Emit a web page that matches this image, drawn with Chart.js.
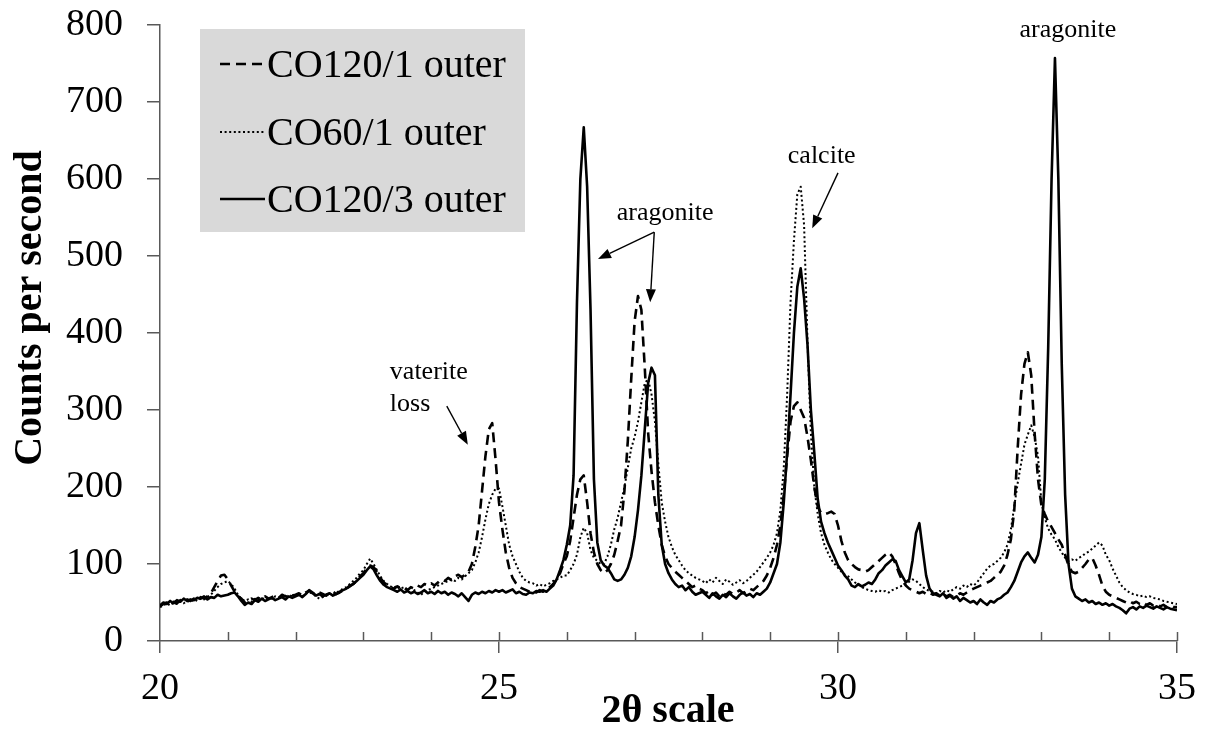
<!DOCTYPE html>
<html>
<head>
<meta charset="utf-8">
<script src="https://cdn.jsdelivr.net/npm/chart.js@4.4.1/dist/chart.umd.min.js"></script>
<style>
  html, body { margin: 0; padding: 0; background: #fff; }
  #wrap { width: 1205px; height: 733px; }
</style>
</head>
<body>
<div id="wrap"><canvas id="xrdChart"></canvas></div>
<script>
// XRD scan, 20.00 to 35.00 deg 2theta, one reading every 0.05 deg
const scanStart = 20;
const scanStep = 0.05;

// counts per second, one row per degree (x.00 ... x.95)
const co120_1 = [
  45,48,50,47,51,49,53,50,54,52,55,53,57,55,58,62,70,78,85,86,
  80,72,64,58,55,50,52,55,53,56,54,58,55,57,59,56,60,58,61,59,
  60,62,59,63,65,62,60,63,61,59,62,64,61,63,66,68,71,74,78,84,
  88,95,98,96,90,82,76,73,70,68,71,67,69,66,70,68,72,70,74,72,
  75,72,76,80,78,82,79,84,86,83,86,90,100,122,150,195,240,275,283,235,
  180,145,115,95,82,75,70,68,66,64,65,63,66,64,67,70,74,80,88,100,
  110,130,160,190,210,215,180,140,115,100,92,88,92,100,112,130,150,195,260,340,
  415,448,430,355,270,220,180,150,125,110,100,95,90,86,82,78,74,70,72,68,
  66,62,65,60,63,58,62,60,64,61,63,66,62,65,68,66,70,74,78,85,
  95,108,125,150,190,240,285,305,310,300,290,265,235,200,175,166,165,166,168,165,
  150,130,115,105,100,96,93,92,90,92,96,100,104,108,112,115,110,100,88,78,
  72,68,66,64,62,64,61,63,60,62,59,61,58,60,57,59,62,60,63,66,
  68,70,72,74,76,78,82,86,90,98,112,132,170,250,320,360,375,345,270,210,
  176,165,155,148,140,132,125,112,98,90,88,90,95,100,106,108,98,86,72,64,
  60,58,56,54,52,50,52,49,51,48,50,47,49,46,48,45,47,44,46,44,
  44
];

const co60_1 = [
  44,46,49,46,50,48,51,49,52,51,54,52,55,54,57,60,65,70,74,76,
  78,74,68,60,55,52,54,51,55,53,56,54,57,55,58,56,59,57,60,58,
  59,61,58,62,64,61,58,55,57,60,62,59,63,65,68,70,74,78,82,88,
  92,100,107,100,92,84,78,74,71,69,72,68,70,67,69,66,63,60,64,66,
  68,70,72,74,76,78,80,78,82,80,84,88,92,102,115,135,158,178,190,198,
  198,175,150,125,110,100,90,82,78,76,75,72,74,71,73,75,78,80,82,85,
  85,92,100,112,135,147,140,118,108,104,100,100,110,125,145,160,180,200,225,250,
  265,285,310,335,340,320,285,230,180,155,135,122,112,105,98,92,88,85,82,80,
  78,75,80,76,82,78,74,80,77,73,76,79,75,78,82,86,90,96,102,108,
  115,125,140,170,225,320,440,520,580,590,540,390,270,200,165,140,125,115,106,100,
  95,90,86,84,80,76,73,70,68,66,65,64,66,64,65,63,66,68,70,72,
  74,77,80,78,74,70,67,65,64,62,65,63,66,64,67,70,68,72,70,74,
  72,76,82,88,94,98,100,104,108,115,125,145,175,205,230,255,268,280,265,240,
  180,160,146,138,132,122,115,108,104,106,104,108,110,114,116,120,124,128,124,112,
  105,94,85,76,70,66,63,61,60,58,59,57,58,56,55,54,52,51,50,49,
  48
];

const co120_3 = [
  46,50,48,52,49,53,51,55,52,54,53,56,55,58,54,57,56,60,58,59,
  60,62,63,58,52,47,50,48,53,51,55,52,54,56,53,55,57,54,58,56,
  58,60,57,61,66,63,59,61,58,60,62,59,61,64,66,68,72,74,78,82,
  86,92,97,93,85,78,73,70,68,66,64,67,63,65,62,64,61,63,66,62,
  64,61,65,62,64,60,63,61,58,62,57,52,60,63,61,64,62,65,63,66,
  64,66,63,65,67,62,64,61,60,63,62,65,64,66,64,68,72,80,92,105,
  125,150,215,440,600,667,590,430,210,128,105,98,95,88,80,78,80,86,95,110,
  135,170,215,275,335,355,345,190,125,100,88,80,74,70,72,66,70,64,60,62,
  64,60,56,62,58,55,60,57,62,58,55,60,63,59,61,57,62,60,64,68,
  76,88,100,128,180,245,320,400,460,484,445,385,300,245,185,155,140,128,118,108,
  98,92,85,80,72,70,74,71,73,76,74,80,88,92,98,102,106,104,92,84,
  76,80,105,140,153,118,85,68,62,60,58,62,56,59,55,58,52,56,53,50,
  52,48,54,50,47,52,50,54,56,60,63,70,78,90,102,110,115,108,102,112,
  135,210,380,600,757,600,360,190,100,68,58,55,52,54,50,52,48,50,47,49,
  46,48,45,43,40,36,42,44,41,45,43,46,44,42,45,43,41,44,42,41,
  40
];

const seriesNames = ["CO120/1 outer", "CO60/1 outer", "CO120/3 outer"];
const xTickValues = [20, 25, 30, 35];
const yTickValues = [0, 100, 200, 300, 400, 500, 600, 700, 800];

// peak notes, placed in data coordinates (2theta, counts)
const noteLabels = [
  { lines: ["vaterite", "loss"], x: 23.39, y: 340, align: "left" },
  { lines: ["aragonite"], x: 27.45, y: 547, align: "center" },
  { lines: ["calcite"], x: 29.76, y: 621, align: "center" },
  { lines: ["aragonite"], x: 33.39, y: 784, align: "center" },
];
const noteArrows = [
  { from: [24.23, 305], to: [24.54, 255] },
  { from: [27.29, 531], to: [26.46, 496] },
  { from: [27.29, 531], to: [27.23, 440] },
  { from: [30.0, 608], to: [29.62, 536] },
];

const angles = co120_3.map((_, i) => +(scanStart + i * scanStep).toFixed(2));
const toPoints = (vals) => vals.map((v, i) => ({ x: angles[i], y: v }));

const serif = "'Liberation Serif', 'Times New Roman', serif";
const axisColor = "#595959";

// minor ticks inside the plot, titles, legend box and the peak notes
const decorations = {
  id: "decorations",
  afterDatasetsDraw(chart) {
    const { ctx, chartArea } = chart;
    const xs = chart.scales.x;
    const ys = chart.scales.y;

    // tick marks pointing up from the x axis, every degree
    ctx.save();
    ctx.strokeStyle = axisColor;
    ctx.lineWidth = 1.5;
    for (let v = 21; v <= 35; v++) {
      const px = Math.round(xs.getPixelForValue(v)) + 0.5;
      ctx.beginPath();
      ctx.moveTo(px, chartArea.bottom);
      ctx.lineTo(px, chartArea.bottom - 9);
      ctx.stroke();
    }
    ctx.restore();

    // notes
    ctx.save();
    ctx.fillStyle = "#000";
    ctx.strokeStyle = "#000";
    ctx.font = "26px " + serif;
    ctx.textBaseline = "alphabetic";
    noteLabels.forEach((n) => {
      ctx.textAlign = n.align;
      const px = xs.getPixelForValue(n.x);
      const py = ys.getPixelForValue(n.y);
      n.lines.forEach((t, k) => ctx.fillText(t, px, py + k * 32));
    });
    ctx.lineWidth = 1.4;
    noteArrows.forEach((a) => {
      const x0 = xs.getPixelForValue(a.from[0]);
      const y0 = ys.getPixelForValue(a.from[1]);
      const x1 = xs.getPixelForValue(a.to[0]);
      const y1 = ys.getPixelForValue(a.to[1]);
      const ang = Math.atan2(y1 - y0, x1 - x0);
      const headLen = 13, headW = 5;
      const bx = x1 - headLen * Math.cos(ang);
      const by = y1 - headLen * Math.sin(ang);
      ctx.beginPath();
      ctx.moveTo(x0, y0);
      ctx.lineTo(bx, by);
      ctx.stroke();
      ctx.beginPath();
      ctx.moveTo(x1, y1);
      ctx.lineTo(bx + headW * Math.sin(ang), by - headW * Math.cos(ang));
      ctx.lineTo(bx - headW * Math.sin(ang), by + headW * Math.cos(ang));
      ctx.closePath();
      ctx.fill();
    });
    ctx.restore();
  },
  afterDraw(chart) {
    const { ctx } = chart;
    ctx.save();

    // axis titles
    ctx.fillStyle = "#000";
    ctx.font = "bold 40px " + serif;
    ctx.textAlign = "center";
    ctx.textBaseline = "middle";
    ctx.fillText("2\u03b8 scale", 668, 712);
    ctx.translate(31, 308);
    ctx.rotate(-Math.PI / 2);
    ctx.fillText("Counts per second", 0, 0);
    ctx.setTransform(1, 0, 0, 1, 0, 0);

    // legend
    ctx.fillStyle = "#d9d9d9";
    ctx.fillRect(200, 29, 325, 203);
    const rows = [64, 132, 199];
    chart.data.datasets.forEach((ds, i) => {
      ctx.strokeStyle = ds.borderColor;
      ctx.lineWidth = ds.borderWidth;
      ctx.setLineDash(ds.borderDash || []);
      ctx.beginPath();
      ctx.moveTo(220, rows[i]);
      ctx.lineTo(265, rows[i]);
      ctx.stroke();
      ctx.setLineDash([]);
      ctx.fillStyle = "#000";
      ctx.font = "40px " + serif;
      ctx.textAlign = "left";
      ctx.textBaseline = "middle";
      ctx.fillText(ds.label, 267, rows[i] + 2);
    });
    ctx.restore();
  },
};

const ctx = document.getElementById("xrdChart").getContext("2d");
const chart = new Chart(ctx, {
  type: "line",
  data: {
    datasets: [
      {
        label: seriesNames[0],
        data: toPoints(co120_1),
        borderColor: "#000",
        borderWidth: 2.6,
        borderDash: [10, 6],
      },
      {
        label: seriesNames[1],
        data: toPoints(co60_1),
        borderColor: "#000",
        borderWidth: 2,
        borderDash: [2, 2.6],
      },
      {
        label: seriesNames[2],
        data: toPoints(co120_3),
        borderColor: "#000",
        borderWidth: 2.6,
      },
    ],
  },
  options: {
    responsive: true,
    maintainAspectRatio: false,
    animation: false,
    layout: { padding: { top: 25, right: 28, left: 0, bottom: 0 } },
    elements: {
      point: { radius: 0 },
      line: { tension: 0, fill: false, borderJoinStyle: "round" },
    },
    plugins: {
      legend: { display: false },
      tooltip: { enabled: false },
    },
    scales: {
      x: {
        type: "linear",
        min: 20,
        max: 35,
        afterBuildTicks: (s) => { s.ticks = xTickValues.map((v) => ({ value: v })); },
        afterFit: (s) => {
          s.height = 92;
          s.paddingLeft = 0;
          s.paddingRight = 0;
        },
        ticks: { color: "#000", font: { family: serif, size: 38 }, padding: 13, maxRotation: 0 },
        grid: { display: true, drawOnChartArea: false, drawTicks: true, tickLength: 12, color: axisColor, lineWidth: 1.5 },
        border: { display: true, color: axisColor, width: 1.5 },
      },
      y: {
        type: "linear",
        min: 0,
        max: 800,
        afterBuildTicks: (s) => { s.ticks = yTickValues.map((v) => ({ value: v })); },
        afterFit: (s) => {
          s.width = 160;
          s.paddingTop = 0;
          s.paddingBottom = 0;
        },
        ticks: { color: "#000", font: { family: serif, size: 38 }, padding: 24 },
        grid: { display: true, drawOnChartArea: false, drawTicks: true, tickLength: 13, color: axisColor, lineWidth: 1.5 },
        border: { display: true, color: axisColor, width: 1.5 },
      },
    },
  },
  plugins: [decorations],
});
</script>
</body>
</html>
